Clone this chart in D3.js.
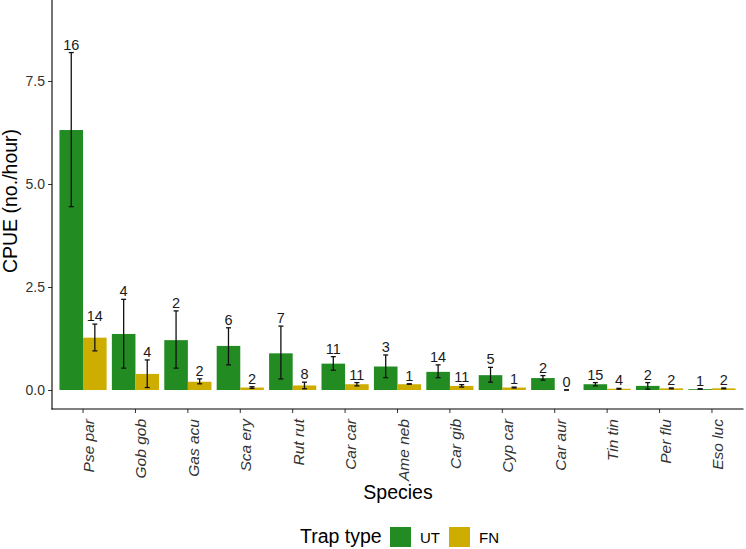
<!DOCTYPE html>
<html>
<head>
<meta charset="utf-8">
<script src="https://cdn.jsdelivr.net/npm/d3@7"></script>
<style>
  body { margin: 0; background: #fff; }
  text { font-family: "Liberation Sans", Arial, sans-serif; }
</style>
</head>
<body>
<div id="chart"></div>
<script>
const WIDTH = 746;
const HEIGHT = 549;

// species codes, in plot order
const species = ["Pse par", "Gob gob", "Gas acu", "Sca ery", "Rut rut", "Car car", "Ame neb",
                 "Car gib", "Cyp car", "Car aur", "Tin tin", "Per flu", "Eso luc"];

// UT (green) series
const utMean = [6.31, 1.36, 1.21, 1.07, 0.89, 0.64, 0.57, 0.44, 0.36, 0.29, 0.14, 0.10, 0.02];
const utLow  = [4.45, 0.53, 0.53, 0.61, 0.27, 0.48, 0.30, 0.30, 0.19, 0.24, 0.10, 0.02, 0.02];
const utHigh = [8.19, 2.20, 1.92, 1.51, 1.55, 0.81, 0.85, 0.61, 0.55, 0.35, 0.18, 0.18, 0.03];
const utN    = [16, 4, 2, 6, 7, 11, 3, 14, 5, 2, 15, 2, 1];

// FN (yellow) series
const fnMean = [1.27, 0.39, 0.20, 0.06, 0.11, 0.14, 0.14, 0.10, 0.06, 0.00, 0.03, 0.04, 0.04];
const fnLow  = [0.95, 0.06, 0.15, 0.04, 0.03, 0.10, 0.14, 0.07, 0.05, 0.00, 0.02, 0.03, 0.03];
const fnHigh = [1.60, 0.73, 0.27, 0.08, 0.19, 0.18, 0.15, 0.13, 0.07, 0.00, 0.04, 0.05, 0.05];
const fnN    = [14, 4, 2, 2, 8, 11, 1, 11, 1, 0, 4, 2, 2];

const yTicks = [0, 2.5, 5, 7.5];
const trapTypes = ["UT", "FN"];
const colors = {UT: "#228B22", FN: "#CDAD00"};

const svg = d3.select("#chart").append("svg")
    .attr("width", WIDTH)
    .attr("height", HEIGHT);

const x = d3.scaleBand()
    .domain(species)
    .range([51.6, 743.4])
    .paddingInner(0)
    .paddingOuter(0.1);

const y = d3.scaleLinear()
    .domain([0, 7.5])
    .range([390, 81]);

const step = x.step();
const barW = step * 0.45;

// build rows for each trap type
const rows = [];
species.forEach((s, i) => {
    rows.push({sp: s, type: "UT", mean: utMean[i], lo: utLow[i], hi: utHigh[i], n: utN[i], off: 0});
    rows.push({sp: s, type: "FN", mean: fnMean[i], lo: fnLow[i], hi: fnHigh[i], n: fnN[i], off: 1});
});
const cx = d => x(d.sp) + step / 2 + (d.off === 0 ? -barW / 2 : barW / 2);

// bars
svg.append("g").selectAll("rect")
    .data(rows)
    .join("rect")
    .attr("x", d => x(d.sp) + step / 2 - barW + d.off * barW)
    .attr("width", barW)
    .attr("y", d => y(d.mean))
    .attr("height", d => y(0) - y(d.mean))
    .attr("fill", d => colors[d.type]);

// error bars
const capW = 5;
const eb = svg.append("g")
    .attr("stroke", "#111")
    .attr("stroke-width", 1.3);
eb.selectAll(".v").data(rows).join("line")
    .attr("x1", cx).attr("x2", cx)
    .attr("y1", d => y(d.lo)).attr("y2", d => y(d.hi));
eb.selectAll(".t").data(rows).join("line")
    .attr("x1", d => cx(d) - capW / 2).attr("x2", d => cx(d) + capW / 2)
    .attr("y1", d => y(d.hi)).attr("y2", d => y(d.hi));
eb.selectAll(".b").data(rows).join("line")
    .attr("x1", d => cx(d) - capW / 2).attr("x2", d => cx(d) + capW / 2)
    .attr("y1", d => y(d.lo)).attr("y2", d => y(d.lo));

// sample size labels
svg.append("g").selectAll("text")
    .data(rows)
    .join("text")
    .attr("x", cx)
    .attr("y", d => y(d.hi) - 3)
    .attr("text-anchor", "middle")
    .attr("font-size", 14.5)
    .attr("fill", "#1a1a1a")
    .text(d => d.n);

// y axis
const yAxis = svg.append("g")
    .attr("transform", "translate(52,0)")
    .call(d3.axisLeft(y).tickValues(yTicks).tickFormat(d3.format(".1f")).tickSize(4).tickPadding(3));
yAxis.select(".domain").remove();
yAxis.append("line").attr("x1", 0).attr("x2", 0).attr("y1", 0).attr("y2", 409.5)
    .attr("stroke", "#000").attr("stroke-width", 1.1);
yAxis.selectAll(".tick line").attr("stroke", "#333");
yAxis.selectAll(".tick text").attr("font-size", 14).attr("fill", "#333")
    .attr("font-family", "Liberation Sans, Arial, sans-serif");

// x axis
const xAxis = svg.append("g")
    .attr("transform", "translate(0,409)")
    .call(d3.axisBottom(x).tickSize(4).tickSizeOuter(0));
xAxis.select(".domain").remove();
xAxis.append("line").attr("x1", 51.5).attr("x2", 743.5).attr("y1", 0).attr("y2", 0)
    .attr("stroke", "#000").attr("stroke-width", 1.1);
xAxis.selectAll(".tick line").attr("stroke", "#333");
xAxis.selectAll(".tick text")
    .attr("font-size", 15.5)
    .attr("font-style", "italic")
    .attr("fill", "#333")
    .attr("font-family", "Liberation Sans, Arial, sans-serif")
    .attr("text-anchor", "end")
    .attr("dy", null)
    .attr("y", 0)
    .attr("transform", "translate(11,10) rotate(-90)");

// axis titles
svg.append("text")
    .attr("transform", "translate(17,201) rotate(-90)")
    .attr("text-anchor", "middle")
    .attr("font-size", 19.5)
    .text("CPUE (no./hour)");

svg.append("text")
    .attr("x", 398)
    .attr("y", 499)
    .attr("text-anchor", "middle")
    .attr("font-size", 19.5)
    .text("Species");

// legend
const legend = svg.append("g");
legend.append("text")
    .attr("x", 300).attr("y", 543)
    .attr("font-size", 19.5)
    .text("Trap type");
const keyX = [390, 449];
trapTypes.forEach((t, i) => {
    legend.append("rect")
        .attr("x", keyX[i]).attr("y", 527)
        .attr("width", 21).attr("height", 20)
        .attr("fill", colors[t]);
    legend.append("text")
        .attr("x", keyX[i] + 30).attr("y", 542.5)
        .attr("font-size", 15)
        .text(t);
});
</script>
</body>
</html>
